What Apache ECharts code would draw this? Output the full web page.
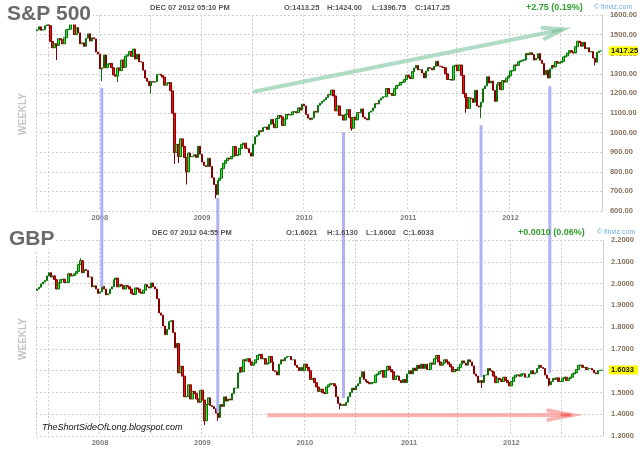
<!DOCTYPE html>
<html><head><meta charset="utf-8">
<script src="https://cdn.jsdelivr.net/npm/echarts@6/dist/echarts.min.js"></script>
<style>html,body{margin:0;padding:0;background:#fff}#c{width:640px;height:455px}</style>
</head><body><div id="c"></div>
<script>
// ---- Weekly closes (week ending Fridays, from 2007-06-08) ----
const spx2007 = [1525,1540,1522,1525,1545,1560,1545,1465,1433,1453,1445,1479,1474,1453,1484,1525,1527,1557,1561,1500,1535,1509,1453,1458,1440,1481,1504,1467,1484,1478];
const spx2008 = [1411,1401,1325,1330,1396,1331,1349,1353,1331,1294,1288,1330,1316,1370,1333,1390,1397,1414,1389,1426,1375,1400,1361,1360,1318,1278,1262,1239,1261,1257,1260,1296,1298,1292,1283,1242,1252,1255,1213,1099,899,940,877,968,930,873,800,896,876,879,887,873];
const spx2009 = [931,890,850,832,826,869,827,770,735,683,756,768,816,843,857,870,866,878,929,883,887,919,940,946,921,918,897,880,941,979,987,1010,1005,1026,1029,1016,1042,1068,1044,1025,1072,1087,1080,1036,1069,1093,1091,1091,1106,1106,1102,1126];
const spx2010 = [1115,1145,1136,1092,1074,1066,1075,1109,1104,1139,1150,1160,1167,1179,1194,1192,1217,1187,1111,1136,1088,1089,1064,1092,1117,1076,1022,1078,1065,1102,1101,1121,1079,1071,1065,1104,1110,1126,1148,1146,1166,1176,1183,1183,1225,1199,1199,1189,1224,1240,1243,1256,1258];
const spx2011 = [1271,1293,1283,1276,1311,1329,1343,1320,1321,1304,1279,1314,1332,1328,1320,1338,1364,1340,1338,1333,1331,1300,1271,1271,1268,1340,1344,1316,1345,1292,1199,1179,1124,1177,1174,1154,1216,1136,1131,1155,1224,1238,1285,1253,1263,1216,1159,1244,1255,1219,1265,1258];
const spx2012 = [1278,1289,1315,1316,1345,1343,1361,1366,1370,1371,1404,1397,1408,1398,1370,1378,1403,1369,1353,1295,1318,1278,1325,1343,1335,1362,1354,1357,1363,1386,1391,1406,1418,1411,1406,1438,1466,1460,1441,1461,1428,1433,1411,1414,1380,1359,1409,1416,1417.25];
const spxFirstOpen = 1520;
const spxLowWicks = [[10,1370],[33,1262],[41,1258],[58,1200],[70,840],[72,845],[76,735],[91,664],[160,1010],[218,1101],[226,1074],[284,1343]];

const gbp2007 = [1.975,1.983,1.998,2.007,2.014,2.035,2.050,2.030,2.035,2.018,1.975,2.003,2.018,2.020,2.005,2.005,2.045,2.035,2.037,2.045,2.055,2.088,2.105,2.050,2.065,2.060,2.030,2.030,1.985,1.990];
const gbp2008 = [1.975,1.955,1.962,1.988,1.975,1.948,1.953,1.975,1.985,2.018,2.025,1.985,1.995,1.990,1.975,1.990,1.985,1.975,1.955,1.950,1.980,1.975,1.960,1.955,1.970,1.995,1.985,1.980,2.003,1.985,1.975,1.930,1.865,1.855,1.805,1.765,1.790,1.825,1.830,1.775,1.705,1.725,1.590,1.620,1.575,1.480,1.482,1.535,1.470,1.505,1.495,1.470];
const gbp2009 = [1.455,1.510,1.465,1.370,1.445,1.475,1.440,1.435,1.425,1.405,1.385,1.445,1.435,1.480,1.460,1.470,1.465,1.495,1.520,1.520,1.590,1.615,1.595,1.650,1.645,1.655,1.640,1.625,1.635,1.650,1.670,1.675,1.655,1.655,1.630,1.635,1.665,1.640,1.600,1.595,1.580,1.630,1.650,1.645,1.660,1.665,1.665,1.650,1.650,1.625,1.615,1.600];
const gbp2010 = [1.615,1.600,1.630,1.615,1.600,1.560,1.565,1.545,1.525,1.505,1.515,1.500,1.495,1.525,1.535,1.540,1.540,1.530,1.480,1.450,1.440,1.445,1.440,1.455,1.480,1.500,1.520,1.512,1.530,1.540,1.570,1.595,1.560,1.550,1.545,1.540,1.545,1.545,1.580,1.585,1.595,1.600,1.570,1.602,1.620,1.605,1.595,1.560,1.575,1.575,1.555,1.545,1.560];
const gbp2011 = [1.545,1.585,1.600,1.585,1.612,1.600,1.625,1.610,1.630,1.610,1.630,1.605,1.605,1.635,1.630,1.655,1.670,1.640,1.625,1.635,1.650,1.640,1.630,1.617,1.595,1.605,1.600,1.615,1.630,1.645,1.635,1.625,1.650,1.640,1.622,1.585,1.575,1.545,1.555,1.545,1.580,1.580,1.610,1.600,1.595,1.575,1.545,1.565,1.560,1.550,1.570,1.555];
const gbp2012 = [1.545,1.530,1.550,1.570,1.580,1.580,1.575,1.585,1.585,1.570,1.570,1.585,1.600,1.585,1.590,1.610,1.625,1.615,1.610,1.580,1.565,1.535,1.550,1.565,1.560,1.567,1.550,1.550,1.565,1.570,1.555,1.565,1.570,1.585,1.590,1.605,1.625,1.625,1.615,1.615,1.605,1.610,1.610,1.603,1.590,1.585,1.600,1.602,1.6033];
const gbpFirstOpen = 1.968;
const gbpLowWicks = [[85,1.350],[92,1.370],[154,1.423],[226,1.520],[260,1.528]];
const gbpHighWicks = [[22,2.116]];

const spxTicks = {min:600, max:1600, step:100};
const gbpTicks = {min:1.3, max:2.2, step:0.1};

// ---- build ----
const spxClose = [].concat(spx2007, spx2008, spx2009, spx2010, spx2011, spx2012);
const gbpClose = [].concat(gbp2007, gbp2008, gbp2009, gbp2010, gbp2011, gbp2012);
const N = spxClose.length;
const cats = [];
const t0 = Date.UTC(2007, 5, 8);
for (let i = 0; i < N; i++) cats.push(new Date(t0 + i * 7 * 86400000).toISOString().slice(0, 10));
const LAG = 2; // the picture draws its date grid two bars after the first week of a period
const yearStart = i => i > 0 && i < N && cats[i].slice(0, 4) !== cats[i - 1].slice(0, 4);
const halfStart = i => {
  if (i <= 0 || i >= N) return false;
  const m = cats[i].slice(5, 7), pm = cats[i - 1].slice(5, 7);
  return m !== pm && (m === '01' || m === '07');
};
function toOHLC(close, firstOpen, lows, highs) {
  const out = close.map((c, i) => {
    const o = i === 0 ? firstOpen : close[i - 1];
    return [o, c, Math.min(o, c), Math.max(o, c)];
  });
  (lows || []).forEach(([i, v]) => { out[i][2] = Math.min(out[i][2], v); });
  (highs || []).forEach(([i, v]) => { out[i][3] = Math.max(out[i][3], v); });
  return out;
}
const spxData = toOHLC(spxClose, spxFirstOpen, spxLowWicks, []);
const gbpData = toOHLC(gbpClose, gbpFirstOpen, gbpLowWicks, gbpHighWicks);

const FONT = '"Liberation Sans", Arial, sans-serif';
const dash = {color: '#cfcfcf', type: [2, 2], width: 1};

function xAxisFor(g) {
  return {
    type: 'category', gridIndex: g, data: cats, boundaryGap: true,
    axisLine: {show: false}, axisTick: {show: false},
    axisLabel: {interval: (i) => yearStart(i - LAG), formatter: (v) => String(Number(v.slice(0, 4))),
      color: '#7a7a7a', fontSize: 7.5, fontWeight: 'bold', fontFamily: FONT, margin: 3},
    splitLine: {show: true, interval: (i) => i === 0 || halfStart(i - LAG), lineStyle: dash}
  };
}
function yAxisFor(g, t, dec) {
  return {
    type: 'value', gridIndex: g, position: 'right', min: t.min, max: t.max, interval: t.step,
    axisLine: {show: true, lineStyle: dash},
    axisTick: {show: false},
    axisLabel: {formatter: v => v.toFixed(dec), color: '#87705a', fontSize: 7.5, fontWeight: 'bold', fontFamily: FONT, margin: 8},
    splitLine: {show: true, lineStyle: dash}
  };
}
const candleStyle = {color: '#33e633', color0: '#e81212', borderColor: '#0a720a', borderColor0: '#870000', borderWidth: 1};

const chart = echarts.init(document.getElementById('c'));
chart.setOption({
  animation: false,
  backgroundColor: '#fff',
  grid: [
    {left: 36, right: 37, top: 15, height: 196},
    {left: 36, right: 37, top: 240, height: 196}
  ],
  xAxis: [xAxisFor(0), xAxisFor(1)],
  yAxis: [yAxisFor(0, spxTicks, 2), yAxisFor(1, gbpTicks, 4)],
  series: [
    {type: 'candlestick', xAxisIndex: 0, yAxisIndex: 0, data: spxData, barWidth: 2, itemStyle: candleStyle},
    {type: 'candlestick', xAxisIndex: 1, yAxisIndex: 1, data: gbpData, barWidth: 2, itemStyle: candleStyle}
  ]
});

// ---- annotations placed through the chart's own scales ----
const px = (g, i, v) => chart.convertToPixel({gridIndex: g}, [i, v]);
const g = [];
function txt(x, y, text, font, fill, extra) {
  g.push(Object.assign({type: 'text', x, y, z: 20, style: {text, font, fill, align: 'left', verticalAlign: 'middle'}}, extra || {}));
}
g.push({type: 'text', x: 5, y: 14, z: 20, style: {text: 'S&P 500', font: 'bold 21px ' + FONT, fill: '#6a6a6a', verticalAlign: 'middle', backgroundColor: '#fff', padding: [0, 2]}});
g.push({type: 'text', x: 7, y: 239, z: 20, style: {text: 'GBP', font: 'bold 21px ' + FONT, fill: '#6a6a6a', verticalAlign: 'middle', backgroundColor: '#fff', padding: [0, 2]}});
const hdrFont = 'bold 7.5px ' + FONT;
const hdrTop = [['DEC 07 2012 05:10 PM', 150], ['O:1413.25', 284], ['H:1424.00', 327], ['L:1396.75', 372], ['C:1417.25', 415]];
const hdrBot = [['DEC 07 2012 04:55 PM', 152], ['O:1.6021', 286], ['H:1.6130', 327], ['L:1.6002', 366], ['C:1.6033', 403]];
hdrTop.forEach(([t, x]) => txt(x, 8, t, hdrFont, '#555'));
hdrBot.forEach(([t, x]) => txt(x, 233, t, hdrFont, '#555'));
txt(526, 8, '+2.75 (0.19%)', 'bold 9px ' + FONT, '#2e9e2e');
txt(518, 233, '+0.0010 (0.06%)', 'bold 9px ' + FONT, '#2e9e2e');
txt(594, 7, '\u00a9 finviz.com', '7px ' + FONT, '#6aaee0');
txt(597, 232, '\u00a9 finviz.com', '7px ' + FONT, '#6aaee0');
[114, 339].forEach(y => g.push({type: 'text', x: 23, y, rotation: Math.PI / 2, z: 20,
  style: {text: 'WEEKLY', font: 'bold 10px ' + FONT, fill: '#c4c4c4', align: 'center', verticalAlign: 'middle'}}));
txt(42, 427, 'TheShortSideOfLong.blogspot.com', 'italic 9px ' + FONT, '#111');

// blue vertical markers (bar index, S&P top value, GBP bottom value)
const markers = [[33, 1227, 1.983], [92, 666, 1.410], [156, 1002, 1.474], [226, 1038, 1.570], [261, 1237, 1.589]];
markers.forEach(([i, vTop, vBot]) => {
  const a = px(0, i, vTop), b = px(1, i, vBot);
  g.push({type: 'line', z: 15, shape: {x1: a[0], y1: a[1], x2: a[0], y2: b[1]},
    style: {stroke: '#a8a8f5', lineWidth: 3, opacity: 0.9}});
});
function arrow(p0, p1, color, w, L, W, headColor) {
  const dx = p1[0] - p0[0], dy = p1[1] - p0[1], len = Math.hypot(dx, dy);
  const ux = dx / len, uy = dy / len, nx = -uy, ny = ux;
  const P = (a, b) => [p1[0] - ux * a + nx * b, p1[1] - uy * a + ny * b];
  g.push({type: 'line', z: 14, shape: {x1: p0[0], y1: p0[1], x2: p1[0] - ux * 6, y2: p1[1] - uy * 6},
    style: {stroke: color, lineWidth: w, opacity: 0.85}});
  g.push({type: 'polyline', z: 14, shape: {points: [P(L, W), [p1[0], p1[1]], P(L, -W)]},
    style: {stroke: color, lineWidth: w, opacity: 0.85, lineJoin: 'miter', fill: null}});
  g.push({type: 'line', z: 14, shape: {x1: p1[0] - ux * 12, y1: p1[1] - uy * 12, x2: p1[0] - ux, y2: p1[1] - uy},
    style: {stroke: headColor, lineWidth: w - 1, opacity: 0.8}});
}
arrow(px(0, 110, 1208), px(0, 268, 1527), '#a2d6bd', 4, 22, 6, '#7fc4a0');
arrow(px(1, 117, 1.395), px(1, 272, 1.396), '#f8a6a6', 4, 26, 5, '#f45a5a');

function tag(gi, v, text) {
  const p = px(gi, N - 1, v);
  g.push({type: 'rect', z: 25, shape: {x: 609, y: p[1] - 4.5, width: 29, height: 9}, style: {fill: '#ffff00'}});
  g.push({type: 'text', z: 26, x: 611, y: p[1], style: {text, font: 'bold 7.5px ' + FONT, fill: '#111', verticalAlign: 'middle'}});
}
tag(0, spxClose[N - 1], spxClose[N - 1].toFixed(2));
tag(1, gbpClose[N - 1], gbpClose[N - 1].toFixed(4));

chart.setOption({graphic: g});
</script>
</body></html>
